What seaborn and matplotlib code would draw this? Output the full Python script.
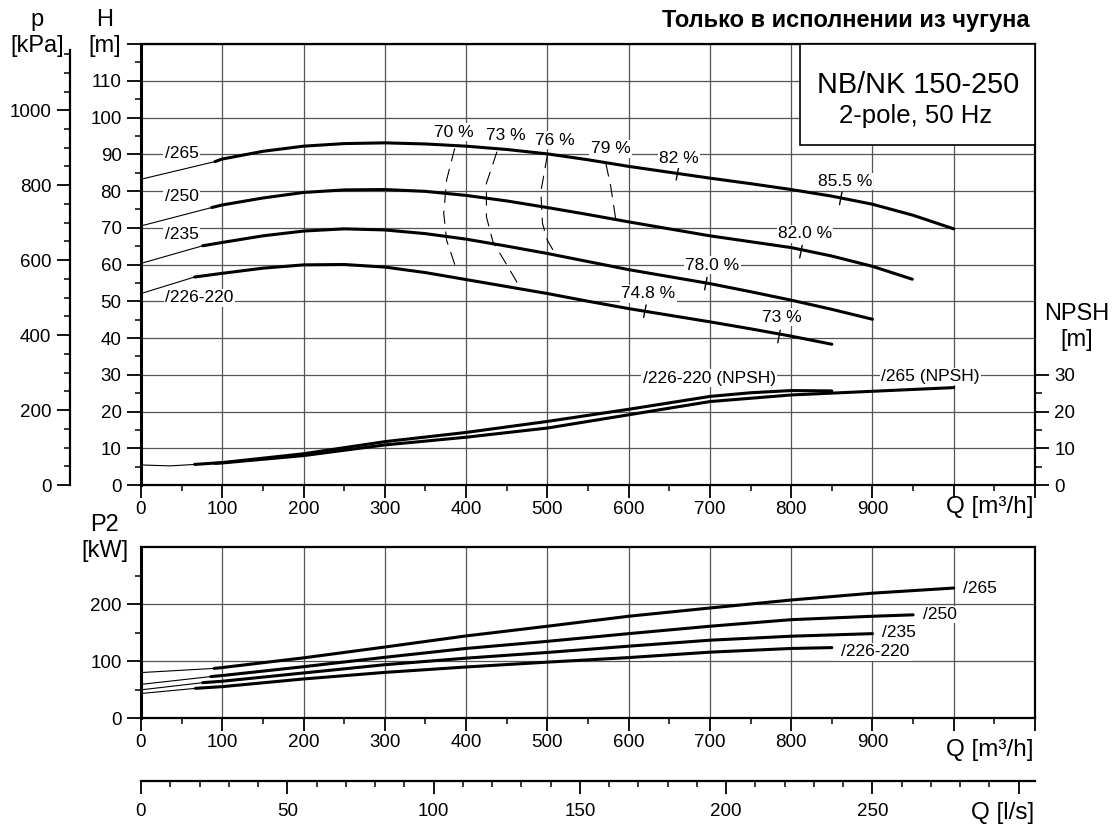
import numpy as np
import matplotlib
matplotlib.use('Agg')
import matplotlib.pyplot as plt
from matplotlib.patches import Rectangle
import seaborn as sns

# Head H [m] over flow Q [m3/h]  (thin part from Q=0, then the thick working range)
q_265_thin, h_265_thin = [0, 91], [83.2, 88.0]
q_265 = [91, 100, 150, 200, 250, 300, 350, 400, 450, 500, 550, 600, 650, 700, 750, 800, 850, 900, 950, 1000]
h_265 = [88.0, 88.7, 90.8, 92.2, 92.9, 93.1, 92.8, 92.2, 91.3, 90.1, 88.5, 86.7, 85.1, 83.5, 82.0, 80.4, 78.6, 76.4, 73.4, 69.7]

q_250_thin, h_250_thin = [0, 87], [70.5, 75.5]
q_250 = [87, 100, 150, 200, 250, 300, 350, 400, 450, 500, 550, 600, 650, 700, 750, 800, 850, 900, 949]
h_250 = [75.5, 76.2, 78.1, 79.6, 80.3, 80.4, 79.9, 78.8, 77.3, 75.5, 73.6, 71.6, 69.7, 67.8, 66.2, 64.6, 62.3, 59.5, 56.0]

q_235_thin, h_235_thin = [0, 76], [60.3, 65.1]
q_235 = [76, 100, 150, 200, 250, 300, 350, 400, 450, 500, 550, 600, 650, 700, 750, 800, 850, 900]
h_235 = [65.1, 66.0, 67.8, 69.1, 69.7, 69.4, 68.4, 66.9, 65.0, 63.0, 60.8, 58.6, 56.7, 54.8, 52.6, 50.3, 47.8, 45.1]

q_226_thin, h_226_thin = [0, 66], [52.1, 56.6]
q_226 = [66, 100, 150, 200, 250, 300, 350, 400, 450, 500, 550, 600, 650, 700, 750, 800, 850]
h_226 = [56.6, 57.6, 59.0, 59.9, 60.0, 59.3, 57.8, 55.9, 54.0, 52.1, 50.0, 48.0, 46.2, 44.4, 42.5, 40.5, 38.3]

# NPSH [m]
q_npsh226_thin, npsh226_thin = [0, 36, 66], [5.45, 5.2, 5.6]
q_npsh226 = [66, 100, 200, 300, 400, 500, 600, 700, 750, 800, 850]
npsh226 = [5.6, 6.1, 8.5, 11.8, 14.3, 17.3, 20.6, 24.1, 25.1, 25.7, 25.6]
q_npsh265 = [91, 100, 200, 300, 400, 500, 600, 700, 800, 900, 1000]
npsh265 = [5.9, 6.0, 8.0, 10.9, 13.0, 15.5, 19.1, 22.7, 24.5, 25.5, 26.5]

# iso-efficiency lines (Q, H)
eff70_q, eff70_h = [386, 376, 372.5, 376, 387], [91.6, 83.0, 73.9, 66.6, 59.4]
eff73_q, eff73_h = [438, 425, 425, 433, 449, 466], [90.7, 82.1, 73.0, 66.2, 60.3, 53.9]
eff76_q, eff76_h = [500, 492, 494, 500, 507], [89.8, 79.8, 71.2, 66.6, 63.9]
eff79_q, eff79_h = [572, 578, 584], [87.5, 81.2, 72.5]

# best-efficiency markers on the curves
mark_q = [660, 861, 812, 695, 620, 785]
mark_h = [84.7, 78.0, 63.5, 54.8, 47.3, 40.4]

# shaft power P2 [kW]
q_p265_thin, p265_thin = [0, 90], [79.7, 87.0]
q_p265 = [90, 100, 200, 300, 400, 500, 600, 700, 800, 900, 1000]
p265 = [87.0, 88.5, 105.5, 124.5, 144.0, 161.0, 178.5, 193.0, 207.0, 219.0, 228.0]
q_p250_thin, p250_thin = [0, 86], [59.0, 72.7]
q_p250 = [86, 100, 200, 300, 400, 500, 600, 700, 800, 900, 950]
p250 = [72.7, 74.5, 90.0, 106.5, 122.0, 134.5, 148.0, 161.0, 172.5, 178.5, 181.0]
q_p235_thin, p235_thin = [0, 76], [49.4, 62.0]
q_p235 = [76, 100, 200, 300, 400, 500, 600, 700, 800, 900]
p235 = [62.0, 64.5, 79.0, 93.5, 105.0, 115.0, 126.0, 136.5, 143.5, 148.0]
q_p226_thin, p226_thin = [0, 67], [43.0, 52.0]
q_p226 = [67, 100, 200, 300, 400, 500, 600, 700, 800, 850]
p226 = [52.0, 55.0, 68.5, 80.0, 89.5, 98.0, 106.0, 115.5, 122.0, 123.5]

# ---------------- style ----------------
sns.set_style('ticks')
plt.rcParams['font.family'] = ['Liberation Sans', 'DejaVu Sans']
plt.rcParams.update({
    'text.color': 'black', 'axes.labelcolor': 'black',
    'xtick.color': 'black', 'ytick.color': 'black',
    'axes.edgecolor': 'black', 'axes.linewidth': 1.6,
    'xtick.labelsize': 13.5, 'ytick.labelsize': 13.5,
})
GRID = '#555555'
box = dict(boxstyle='square,pad=0.08', fc='white', ec='none')

fig = plt.figure(figsize=(11.16, 8.3), dpi=100)
W, H = 1116, 830
ax = fig.add_axes([141 / W, 1 - 485 / H, 894 / W, 441 / H])
ax_pw = fig.add_axes([141 / W, 1 - 718 / H, 894 / W, 171 / H])


def curve(a, q, v, lw=2.2, **kw):
    sns.lineplot(x=q, y=v, ax=a, color='black', lw=lw, sort=False,
                 estimator=None, zorder=3, **kw)


def style_q_axis(a):
    a.set_xlim(0, 1100)
    a.set_xticks(np.arange(0, 1101, 100))
    a.set_xticklabels([str(v) for v in range(0, 1000, 100)] + ['', ''])
    a.set_xticks(np.arange(50, 1100, 100), minor=True)
    a.tick_params(axis='x', which='major', length=9.5, width=1.3, pad=2)
    a.tick_params(axis='x', which='minor', length=4, width=1.1)
    a.tick_params(axis='y', which='major', length=10, width=1.3, pad=4)
    a.tick_params(axis='y', which='minor', length=4.5, width=1.1)
    a.grid(True, which='major', color=GRID, lw=0.9)
    a.set_axisbelow(True)
    for s in a.spines.values():
        s.set_visible(True)
        s.set_color('black')
        s.set_linewidth(1.6)
    a.spines['left'].set_linewidth(2.2)
    a.set_xlabel('')
    a.set_ylabel('')


# ---------------- head / NPSH panel ----------------
for qt, ht, q, h in [(q_265_thin, h_265_thin, q_265, h_265),
                     (q_250_thin, h_250_thin, q_250, h_250),
                     (q_235_thin, h_235_thin, q_235, h_235),
                     (q_226_thin, h_226_thin, q_226, h_226)]:
    curve(ax, qt, ht, lw=0.8)
    curve(ax, q, h)

curve(ax, q_npsh226_thin, npsh226_thin, lw=0.8)
curve(ax, q_npsh226, npsh226)
curve(ax, q_npsh265, npsh265)

for q, h in [(eff70_q, eff70_h), (eff73_q, eff73_h), (eff76_q, eff76_h), (eff79_q, eff79_h)]:
    curve(ax, q, h, lw=0.8, linestyle=(0, (12, 7)))

for q, h in zip(mark_q, mark_h):
    ax.plot([q - 1.5, q + 1.5], [h - 1.7, h + 1.7], color='black', lw=1.0, zorder=3)

style_q_axis(ax)
ax.set_ylim(0, 120)
ax.set_yticks(np.arange(0, 121, 10))
ax.set_yticklabels([str(v) for v in range(0, 111, 10)] + [''])
ax.set_yticks(np.arange(5, 120, 10), minor=True)

# curve names
for q, h, s in [(50, 90.3, '/265'), (50, 78.6, '/250'), (50, 68.2, '/235'), (72, 50.9, '/226-220')]:
    ax.text(q, h, s, ha='center', va='center', fontsize=12.5, bbox=box, zorder=4)

# efficiency values
for q, h, s in [(385, 96.0, '70 %'), (449, 95.1, '73 %'), (509, 93.8, '76 %'),
                (578, 91.5, '79 %'), (662, 88.8, '82 %'), (866, 82.6, '85.5 %'),
                (817, 68.3, '82.0 %'), (703, 59.8, '78.0 %'), (624, 52.0, '74.8 %'),
                (788, 45.7, '73 %')]:
    ax.text(q, h, s, ha='center', va='center', fontsize=12.5, bbox=box, zorder=4)

ax.text(699, 29.1, '/226-220 (NPSH)', ha='center', va='center', fontsize=12.5, bbox=box, zorder=4)
ax.text(971, 29.5, '/265 (NPSH)', ha='center', va='center', fontsize=12.5, bbox=box, zorder=4)

# type box
ax.add_patch(Rectangle((0.737, 0.771), 0.263, 0.229, transform=ax.transAxes,
                       fc='white', ec='black', lw=1.2, zorder=5))
ax.text(0.869, 0.907, 'NB/NK 150-250', transform=ax.transAxes, ha='center',
        va='center', fontsize=20.8, zorder=6)
ax.text(0.866, 0.837, '2-pole, 50 Hz', transform=ax.transAxes, ha='center',
        va='center', fontsize=18.5, zorder=6)

# pressure scale on the far left
ax_p = ax.twinx()
ax_p.set_ylim(0, 120 * 9.80665)
ax_p.yaxis.set_ticks_position('left')
for k in ['right', 'top', 'bottom']:
    ax_p.spines[k].set_visible(False)
ax_p.spines['left'].set_visible(True)
ax_p.spines['left'].set_position(('outward', 51))
ax_p.spines['left'].set_bounds(0, 1160)
ax_p.spines['left'].set_linewidth(1.6)
ax_p.set_yticks(np.arange(0, 1001, 200))
ax_p.set_yticks(np.arange(50, 1151, 50), minor=True)
ax_p.tick_params(axis='y', which='major', length=9.5, width=1.3, pad=4)
ax_p.tick_params(axis='y', which='minor', length=4.5, width=1.1)

# NPSH scale on the right
ax_n = ax.twinx()
ax_n.set_ylim(0, 120)
for s in ax_n.spines.values():
    s.set_visible(False)
ax_n.set_yticks([0, 10, 20, 30])
ax_n.set_yticks([5, 15, 25], minor=True)
ax_n.tick_params(axis='y', which='major', length=10, width=1.3, pad=4)
ax_n.tick_params(axis='y', which='minor', length=5, width=1.1)

# ---------------- power panel ----------------
for qt, pt, q, p in [(q_p265_thin, p265_thin, q_p265, p265),
                     (q_p250_thin, p250_thin, q_p250, p250),
                     (q_p235_thin, p235_thin, q_p235, p235),
                     (q_p226_thin, p226_thin, q_p226, p226)]:
    curve(ax_pw, qt, pt, lw=0.8)
    curve(ax_pw, q, p)

for q, p, s in [(1012, 228, '/265'), (962, 181.4, '/250'), (912, 149.4, '/235'), (861, 116.3, '/226-220')]:
    ax_pw.text(q, p, s, ha='left', va='center', fontsize=12.5, bbox=box, zorder=4)

style_q_axis(ax_pw)
ax_pw.set_ylim(0, 300)
ax_pw.set_yticks([0, 100, 200])
ax_pw.set_yticks([50, 150, 250], minor=True)

# flow in l/s underneath
sec = ax_pw.secondary_xaxis(-(781 - 718) / 171, functions=(lambda q: q / 3.6, lambda l: l * 3.6))
sec.set_xticks(np.arange(0, 301, 50))
sec.set_xticklabels(['0', '50', '100', '150', '200', '250', ''])
sec.set_xticks(np.arange(0, 306, 10), minor=True)
sec.tick_params(axis='x', which='major', length=9.5, width=1.3, pad=6)
sec.tick_params(axis='x', which='minor', length=4.5, width=1.1)
sec.spines['bottom'].set_linewidth(1.6)

# ---------------- axis titles ----------------
fig.text(1030 / W, 1 - 20 / H, 'Только в исполнении из чугуна', ha='right', va='center',
         fontsize=17, fontweight='bold')
fig.text(37 / W, 1 - 33 / H, 'p\n[kPa]', ha='center', va='center', fontsize=17)
fig.text(105 / W, 1 - 33 / H, 'H\n[m]', ha='center', va='center', fontsize=17)
fig.text(1077 / W, 1 - 327 / H, 'NPSH\n[m]', ha='center', va='center', fontsize=17)
fig.text(105 / W, 1 - 538 / H, 'P2\n[kW]', ha='center', va='center', fontsize=17)
fig.text(990 / W, 1 - 507 / H, 'Q [m³/h]', ha='center', va='center', fontsize=17.5)
fig.text(990 / W, 1 - 750 / H, 'Q [m³/h]', ha='center', va='center', fontsize=17.5)
fig.text(1003 / W, 1 - 813 / H, 'Q [l/s]', ha='center', va='center', fontsize=17.5)

fig.savefig('out.png', dpi=100)
